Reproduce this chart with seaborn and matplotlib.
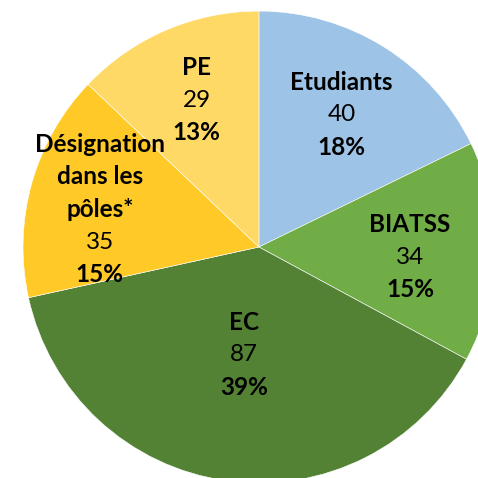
import numpy as np
import matplotlib
matplotlib.use("Agg")
import matplotlib.pyplot as plt
import seaborn as sns

# data
categories = ["Etudiants", "BIATSS", "EC", "Désignation\ndans les\npôles*", "PE"]
values = [40, 34, 87, 35, 29]
percents = ["18%", "15%", "39%", "15%", "13%"]
colors = ["#9DC3E6", "#70AD47", "#548235", "#FFCA28", "#FFD966"]

sns.set_theme(style="white")
plt.rcParams['font.family'] = ['Lato', 'DejaVu Sans']

fig = plt.figure(figsize=(4.78, 4.78), dpi=100)
ax = fig.add_axes([0, 0, 1, 1])
wedges, _ = ax.pie(values, colors=colors, startangle=90, counterclock=False,
                   radius=1.0, wedgeprops=dict(edgecolor="white", linewidth=0.4))
ax.set_xlim(-1.097, 0.928)
ax.set_ylim(-0.979, 1.047)
ax.set_aspect("equal")
ax.axis("off")

# label distance from centre and small vertical nudge (points), per slice
label_r = [0.66, 0.64, 0.45, 0.70, 0.67]
nudge = [0, -5, -2, -5, 1]
line_h = 23.5  # points

for w, name, v, p, r, dy in zip(wedges, categories, values, percents, label_r, nudge):
    ang = np.deg2rad((w.theta1 + w.theta2) / 2)
    x, y = r * np.cos(ang), r * np.sin(ang)
    lines = [(s, "bold") for s in name.split("\n")] + [(str(v), "normal"), (p, "bold")]
    n = len(lines)
    for i, (s, wt) in enumerate(lines):
        off = ((n - 1) / 2 - i) * line_h + dy
        ax.annotate(s, (x, y), xytext=(0, off), textcoords="offset points",
                    ha="center", va="center", fontsize=17.5, fontweight=wt,
                    color="black")

fig.savefig("out.png", dpi=100)
